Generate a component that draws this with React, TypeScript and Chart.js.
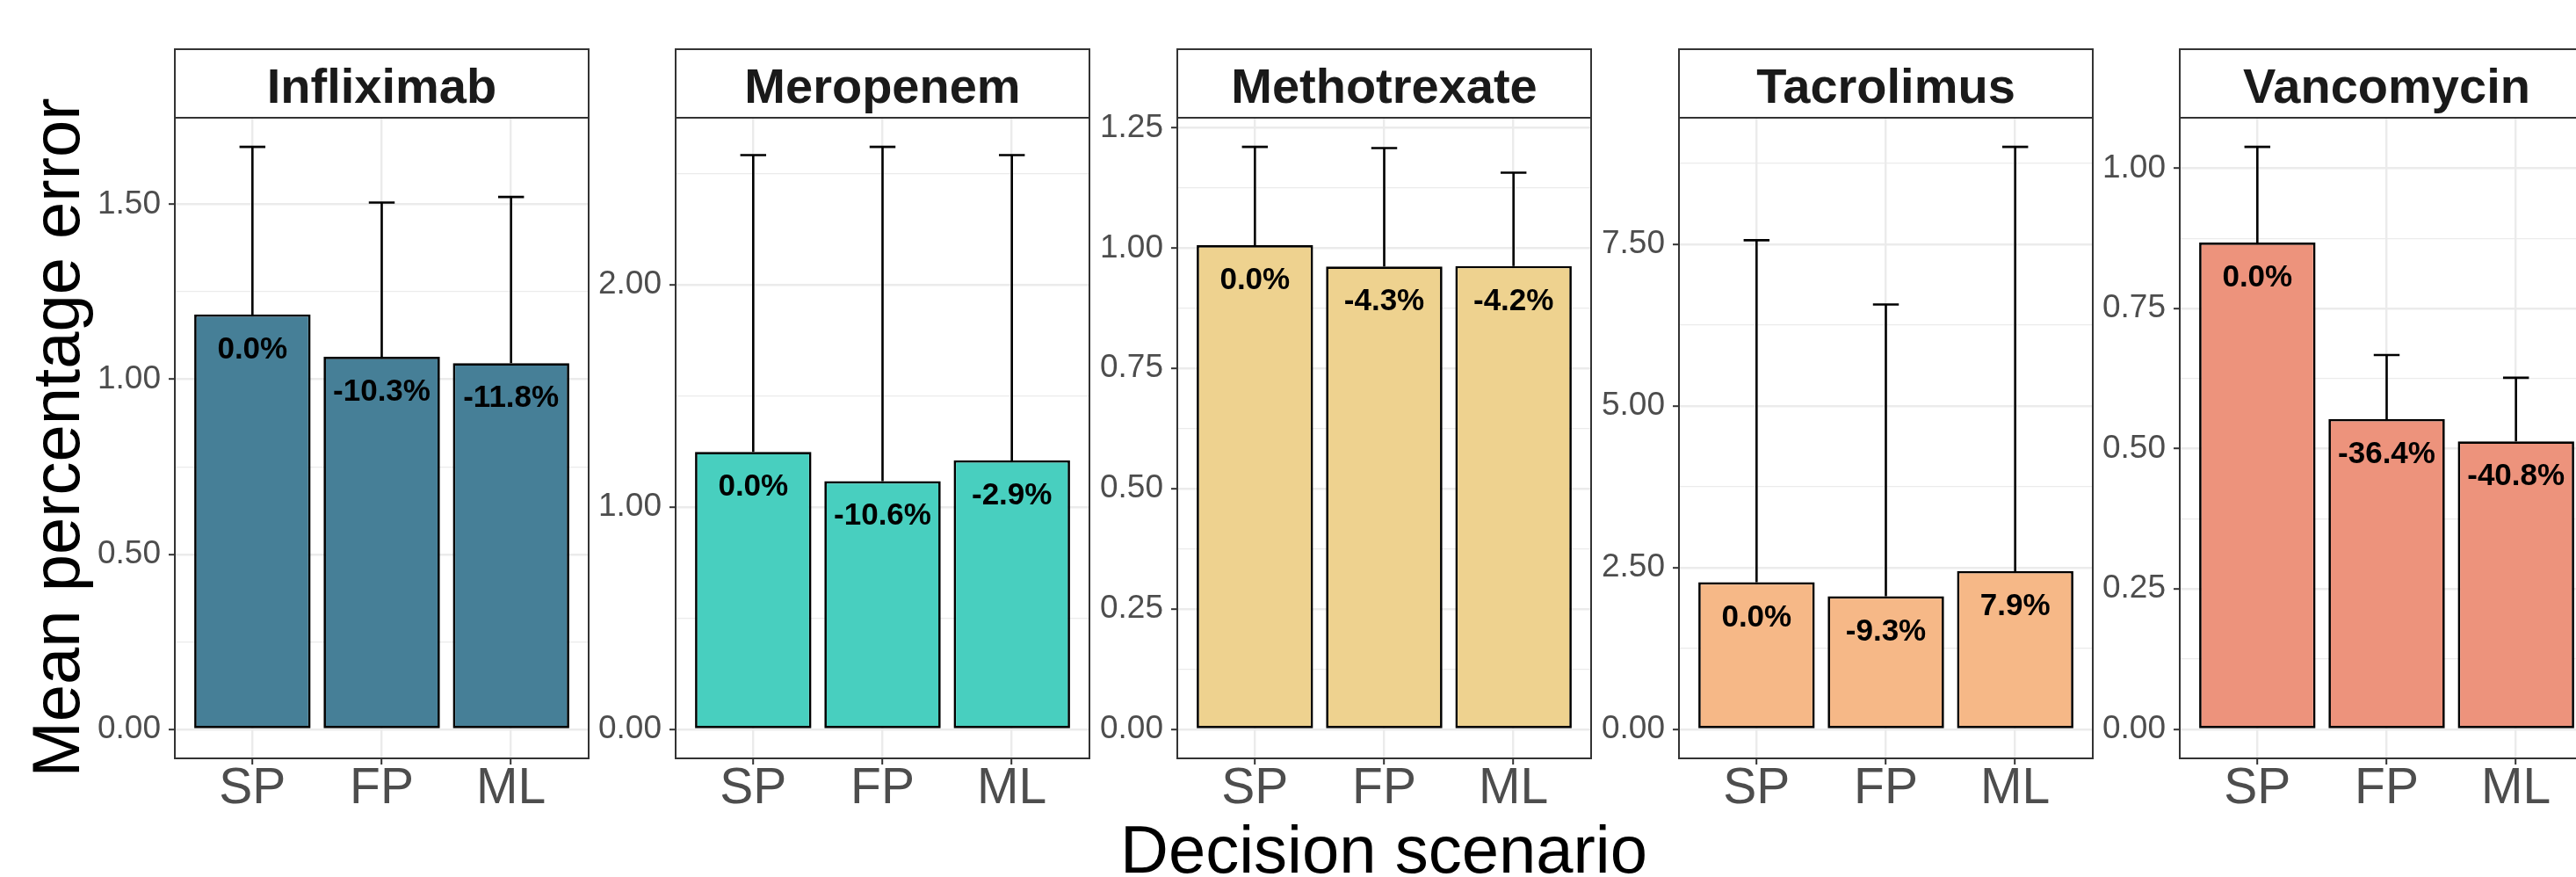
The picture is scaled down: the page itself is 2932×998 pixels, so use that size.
import React, { useEffect, useRef } from 'react';
import { Chart, registerables } from 'chart.js';

Chart.register(...registerables);

// ---------------- data ----------------
const drugs = ['Infliximab', 'Meropenem', 'Methotrexate', 'Tacrolimus', 'Vancomycin'];
const scenarios = ['SP', 'FP', 'ML'];

const infliximabMean = [1.185, 1.064, 1.046];
const infliximabUpper = [1.664, 1.505, 1.521];
const infliximabLabels = ['0.0%', '-10.3%', '-11.8%'];

const meropenemMean = [1.248, 1.117, 1.21];
const meropenemUpper = [2.584, 2.621, 2.584];
const meropenemLabels = ['0.0%', '-10.6%', '-2.9%'];

const methotrexateMean = [1.006, 0.962, 0.963];
const methotrexateUpper = [1.2105, 1.208, 1.157];
const methotrexateLabels = ['0.0%', '-4.3%', '-4.2%'];

const tacrolimusMean = [2.272, 2.055, 2.445];
const tacrolimusUpper = [7.56, 6.566, 9.003];
const tacrolimusLabels = ['0.0%', '-9.3%', '7.9%'];

const vancomycinMean = [0.8676, 0.5528, 0.513];
const vancomycinUpper = [1.038, 0.667, 0.6265];
const vancomycinLabels = ['0.0%', '-36.4%', '-40.8%'];

const infliximabMajorTicks = [0, 0.5, 1.0, 1.5];
const infliximabMinorTicks = [0.25, 0.75, 1.25];
const meropenemMajorTicks = [0, 1, 2];
const meropenemMinorTicks = [0.5, 1.5, 2.5];
const methotrexateMajorTicks = [0, 0.25, 0.5, 0.75, 1.0, 1.25];
const methotrexateMinorTicks = [0.125, 0.375, 0.625, 0.875, 1.125];
const tacrolimusMajorTicks = [0, 2.5, 5.0, 7.5];
const tacrolimusMinorTicks = [1.25, 3.75, 6.25, 8.75];
const vancomycinMajorTicks = [0, 0.25, 0.5, 0.75, 1.0];
const vancomycinMinorTicks = [0.125, 0.375, 0.625, 0.875];

const panelColors = ['#467F97', '#48CFBF', '#EED28F', '#F6B887', '#ED937C'];

const meanSeries = [infliximabMean, meropenemMean, methotrexateMean, tacrolimusMean, vancomycinMean];
const upperSeries = [infliximabUpper, meropenemUpper, methotrexateUpper, tacrolimusUpper, vancomycinUpper];
const labelSeries = [infliximabLabels, meropenemLabels, methotrexateLabels, tacrolimusLabels, vancomycinLabels];
const majorSeries = [infliximabMajorTicks, meropenemMajorTicks, methotrexateMajorTicks, tacrolimusMajorTicks, vancomycinMajorTicks];
const minorSeries = [infliximabMinorTicks, meropenemMinorTicks, methotrexateMinorTicks, tacrolimusMinorTicks, vancomycinMinorTicks];

// ---------------- layout / style ----------------
const FONT = '"Liberation Sans", Arial, Helvetica, sans-serif';
const PANEL_LEFTS = [199, 769, 1340, 1911, 2481];
const PANEL_W = 471;
const PLOT_TOP = 134;
const PLOT_BOTTOM = 863;
const AXIS_W = 100;
const PAD_TOP = 94;
const X_AXIS_H = 100;
const PAD_RIGHT = 4;
const STRIP_H = 78;

const isIn = (v: number, arr: number[]) => arr.some((m) => Math.abs(m - v) < 1e-9);

const panelPlugin = {
  id: 'panelDeco',
  beforeDatasetsDraw(chart: any, _args: any, opts: any) {
    const { ctx } = chart;
    const xs = chart.scales.x;
    const ys = chart.scales.y;
    ctx.save();
    ctx.strokeStyle = '#000';
    ctx.lineWidth = 2.6;
    ctx.lineCap = 'butt';
    opts.upper.forEach((u: number, i: number) => {
      const x = xs.getPixelForValue(i + 1);
      const half = xs.getPixelForValue(i + 1.1) - x;
      const yTop = ys.getPixelForValue(u);
      const yBase = ys.getPixelForValue(opts.mean[i]);
      ctx.beginPath();
      ctx.moveTo(x, yBase);
      ctx.lineTo(x, yTop);
      ctx.moveTo(x - half, yTop);
      ctx.lineTo(x + half, yTop);
      ctx.stroke();
    });
    ctx.restore();
  },
  afterDatasetsDraw(chart: any, _args: any, opts: any) {
    const { ctx } = chart;
    const xs = chart.scales.x;
    const ys = chart.scales.y;
    ctx.save();
    ctx.fillStyle = '#000';
    ctx.font = `bold 35px ${FONT}`;
    ctx.textAlign = 'center';
    ctx.textBaseline = 'alphabetic';
    opts.labels.forEach((t: string, i: number) => {
      const x = xs.getPixelForValue(i + 1);
      const y = ys.getPixelForValue(opts.mean[i]) + 50;
      ctx.fillText(t, x, y);
    });
    ctx.restore();
  },
  afterDraw(chart: any, _args: any, opts: any) {
    const { ctx, chartArea } = chart;
    const { left, right, top, bottom } = chartArea;
    ctx.save();
    ctx.strokeStyle = '#333333';
    ctx.lineWidth = 2;
    ctx.strokeRect(left, top, right - left, bottom - top);
    // strip
    ctx.fillStyle = '#ffffff';
    ctx.fillRect(left, top - STRIP_H, right - left, STRIP_H);
    ctx.strokeRect(left, top - STRIP_H, right - left, STRIP_H);
    ctx.fillStyle = '#1A1A1A';
    ctx.font = `bold 56px ${FONT}`;
    ctx.textAlign = 'center';
    ctx.textBaseline = 'alphabetic';
    ctx.fillText(opts.title, (left + right) / 2, top - 17.3);
    ctx.restore();
  },
};

function Panel({ idx }: { idx: number }) {
  const ref = useRef<HTMLCanvasElement>(null);
  const cw = AXIS_W + PANEL_W + PAD_RIGHT;
  const ch = PAD_TOP + (PLOT_BOTTOM - PLOT_TOP) + X_AXIS_H;
  useEffect(() => {
    const mean = meanSeries[idx];
    const upper = upperSeries[idx];
    const major = majorSeries[idx];
    const minor = minorSeries[idx];
    const allTicks = [...major, ...minor].sort((a, b) => a - b);
    const maxUpper = Math.max(...upper);
    const yMax = maxUpper * 1.05;
    const yMin = -maxUpper * 0.05;
    const chart = new Chart(ref.current as HTMLCanvasElement, {
      type: 'bar',
      data: {
        datasets: [
          {
            data: mean.map((m, i) => ({ x: i + 1, y: m })),
            backgroundColor: panelColors[idx],
            borderColor: '#000000',
            borderWidth: 2.7,
            borderSkipped: false,
            barPercentage: 0.9,
            categoryPercentage: 1,
          } as any,
        ],
      },
      options: {
        animation: false,
        responsive: false,
        maintainAspectRatio: false,
        layout: { padding: { top: PAD_TOP, right: PAD_RIGHT, left: 0, bottom: 0 } },
        plugins: {
          legend: { display: false },
          tooltip: { enabled: false },
          panelDeco: { upper, mean, labels: labelSeries[idx], title: drugs[idx] },
        } as any,
        scales: {
          x: {
            type: 'linear',
            min: 0.4,
            max: 3.6,
            offset: false,
            afterBuildTicks: (s: any) => {
              s.ticks = scenarios.map((_, i) => ({ value: i + 1 }));
            },
            afterFit: (s: any) => {
              s.height = X_AXIS_H;
            },
            border: { display: false },
            grid: {
              offset: false,
              color: '#EBEBEB',
              lineWidth: 2.4,
              tickColor: '#333333',
              tickWidth: 2,
              tickLength: 7,
            },
            ticks: {
              autoSkip: false,
              maxRotation: 0,
              padding: 0,
              color: '#4D4D4D',
              font: { family: FONT, size: 57, lineHeight: 1 },
              callback: (v: any) => scenarios[Math.round(Number(v)) - 1] ?? '',
            },
          } as any,
          y: {
            type: 'linear',
            min: yMin,
            max: yMax,
            afterBuildTicks: (s: any) => {
              s.ticks = allTicks.map((v) => ({ value: v }));
            },
            afterFit: (s: any) => {
              s.width = AXIS_W;
            },
            border: { display: false },
            grid: {
              color: '#EBEBEB',
              lineWidth: (c: any) => (c.tick && isIn(c.tick.value, major) ? 2.4 : 1.3),
              tickColor: (c: any) => (c.tick && isIn(c.tick.value, major) ? '#333333' : 'rgba(0,0,0,0)'),
              tickWidth: 2,
              tickLength: 7,
            },
            ticks: {
              autoSkip: false,
              padding: 9,
              color: '#4D4D4D',
              font: { family: FONT, size: 37 },
              callback: (v: any) => (isIn(Number(v), major) ? Number(v).toFixed(2) : ''),
            },
          } as any,
        },
      },
      plugins: [panelPlugin as any],
    });
    return () => chart.destroy();
  }, [idx]);
  return (
    <canvas
      ref={ref}
      width={cw}
      height={ch}
      style={{
        position: 'absolute',
        left: PANEL_LEFTS[idx] - AXIS_W,
        top: PLOT_TOP - PAD_TOP,
        width: cw,
        height: ch,
      }}
    />
  );
}

export default function App() {
  return (
    <div
      style={{
        position: 'absolute',
        left: 0,
        top: 0,
        width: 2932,
        height: 998,
        overflow: 'hidden',
        background: '#ffffff',
        fontFamily: FONT,
      }}
    >
      {drugs.map((_, i) => (
        <Panel key={i} idx={i} />
      ))}
      <div
        style={{
          position: 'absolute',
          left: 64 - 450,
          top: 498 - 38,
          width: 900,
          height: 76,
          lineHeight: '76px',
          fontSize: 76,
          textAlign: 'center',
          color: '#000',
          transform: 'rotate(-90deg)',
          transformOrigin: 'center center',
          whiteSpace: 'nowrap',
        }}
      >
        Mean percentage error
      </div>
      <div
        style={{
          position: 'absolute',
          left: 1575 - 600,
          top: 929,
          width: 1200,
          height: 76,
          lineHeight: '76px',
          fontSize: 76,
          textAlign: 'center',
          color: '#000',
          whiteSpace: 'nowrap',
        }}
      >
        Decision scenario
      </div>
    </div>
  );
}
